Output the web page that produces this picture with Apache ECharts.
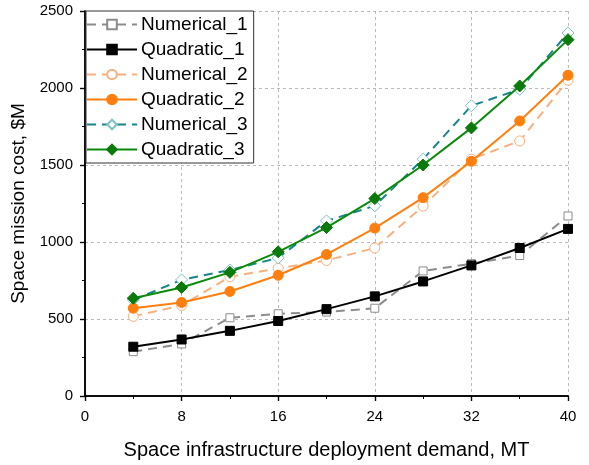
<!DOCTYPE html>
<html><head><meta charset="utf-8">
<script src="https://cdn.jsdelivr.net/npm/echarts@6/dist/echarts.min.js"></script>
<style>html,body{margin:0;padding:0;background:#fff}#c{width:589px;height:465px}</style>
</head><body><div id="c"></div>
<script>
var demand = [4, 8, 12, 16, 20, 24, 28, 32, 36, 40];
var numerical1 = [288, 338, 508, 534, 545, 570, 812, 859, 912, 1169];
var quadratic1 = [320, 367, 423, 487, 564, 647, 744, 848, 961, 1085];
var numerical2 = [517, 588, 774, 829, 880, 961, 1233, 1538, 1656, 2051];
var quadratic2 = [570, 607, 679, 784, 919, 1090, 1288, 1524, 1786, 2083];
var numerical3 = [624, 754, 818, 897, 1137, 1235, 1538, 1885, 1991, 2357];
var quadratic3 = [635, 705, 803, 936, 1094, 1282, 1500, 1741, 2013, 2314];
var xTicks = [0, 8, 16, 24, 32, 40];
var yTicks = [0, 500, 1000, 1500, 2000, 2500];

function pts(ys){ return demand.map(function(x,i){ return [x, ys[i]]; }); }
var FONT = 'Liberation Sans, Arial, sans-serif';
function series(name, ys, color, dashed, symbol, size, fill, border, z){
  return {
    name: name, type: 'line', data: pts(ys), z: z,
    symbol: symbol, symbolSize: size,
    lineStyle: {color: color, width: 2, type: dashed ? [9, 6] : 'solid'},
    itemStyle: {color: fill, borderColor: border, borderWidth: 1},
    emphasis: {disabled: true}, animation: false
  };
}
var chart = echarts.init(document.getElementById('c'));
var axisLine = {show: true, lineStyle: {color: '#000', width: 1.5}};
chart.setOption({
  backgroundColor: '#fff',
  animation: false,
  grid: {left: 85, right: 21, top: 11, bottom: 65, show: false},
  legend: {
    left: 86, top: 11, orient: 'vertical',
    backgroundColor: '#fff', borderColor: '#333', borderWidth: 1,
    padding: [4, 6, 4, 0], itemGap: 6, itemWidth: 50, itemHeight: 12,
    textStyle: {fontFamily: FONT, fontSize: 19, color: '#000', padding: [0, 0, 0, -1]},
    data: ['Numerical_1','Quadratic_1','Numerical_2','Quadratic_2','Numerical_3','Quadratic_3']
  },
  xAxis: [{
    type: 'value', min: 0, max: 40, interval: 8,
    name: 'Space infrastructure deployment demand, MT', nameLocation: 'middle', nameGap: 44,
    nameTextStyle: {fontFamily: FONT, fontSize: 20, color: '#000'},
    axisLine: axisLine,
    axisTick: {show: true, inside: false, length: 5, lineStyle: {color: '#000', width: 1.2}},
    minorTick: {show: true, splitNumber: 2, length: 3, lineStyle: {color: '#000', width: 1}},
    axisLabel: {fontFamily: FONT, fontSize: 15, color: '#000', margin: 13,
      formatter: function(v){ return xTicks.indexOf(v) >= 0 ? String(v) : ''; }},
    splitLine: {show: true, lineStyle: {color: '#bbb', type: [3, 3], width: 1}}
  }, {
    type: 'value', position: 'top', min: 0, max: 40, interval: 8,
    axisLine: axisLine,
    axisTick: {show: true, inside: true, length: 5, lineStyle: {color: '#000', width: 1.2}},
    minorTick: {show: true, splitNumber: 2, length: 3, lineStyle: {color: '#000'}},
    axisLabel: {show: false}, splitLine: {show: false}
  }],
  yAxis: [{
    type: 'value', min: 0, max: 2500, interval: 500,
    name: 'Space mission cost, $M', nameLocation: 'middle', nameGap: 55, nameRotate: 90,
    nameTextStyle: {fontFamily: FONT, fontSize: 19, color: '#000'},
    axisLine: axisLine,
    axisTick: {show: true, inside: false, length: 5, lineStyle: {color: '#000', width: 1.2}},
    minorTick: {show: true, splitNumber: 2, length: 3, lineStyle: {color: '#000'}},
    axisLabel: {fontFamily: FONT, fontSize: 15, color: '#000', margin: 12,
      formatter: function(v){ return yTicks.indexOf(v) >= 0 ? String(v) : ''; }},
    splitLine: {show: true, lineStyle: {color: '#bbb', type: [3, 3], width: 1}}
  }, {
    type: 'value', position: 'right', min: 0, max: 2500, interval: 500,
    axisLine: axisLine,
    axisTick: {show: true, inside: true, length: 5, lineStyle: {color: '#000', width: 1.2}},
    minorTick: {show: true, splitNumber: 2, length: 3, lineStyle: {color: '#000'}},
    axisLabel: {show: false}, splitLine: {show: false}
  }],
  series: [
    series('Numerical_1', numerical1, '#8c8c8c', true, 'rect', 8, '#fff', '#8c8c8c', 2),
    series('Quadratic_1', quadratic1, '#000', false, 'rect', 9, '#000', '#000', 3),
    series('Numerical_2', numerical2, '#f7b07e', true, 'circle', 10, '#fff', '#f7b07e', 2),
    series('Quadratic_2', quadratic2, '#ff7f0e', false, 'circle', 10, '#ff7f0e', '#ff7f0e', 3),
    series('Numerical_3', numerical3, '#17868a', true, 'diamond', 12, '#fff', '#7cc4c4', 2),
    series('Quadratic_3', quadratic3, '#0a8a0a', false, 'diamond', 12, '#0a7a0a', '#0a7a0a', 3)
  ]
});
</script></body></html>
